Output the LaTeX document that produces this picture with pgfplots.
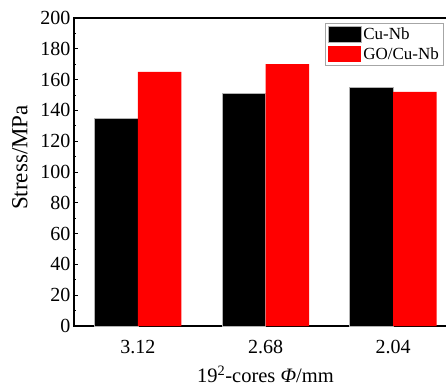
\documentclass[border=0pt]{standalone}
\usepackage{fontspec}
\setmainfont{Liberation Serif}
\usepackage{pgfplots}
\pgfplotsset{compat=1.18}
\usetikzlibrary{calc}
\pgfplotsset{sqlegend/.style={legend image code/.code={\fill[##1] (0bp,-8bp) rectangle (33bp,8bp);}}}
\begin{document}
\begin{tikzpicture}
\begin{axis}[
 scale only axis, width=383bp, height=308bp,
 xmin=-0.5, xmax=2.5, ymin=0, ymax=200,
 ybar=0pt, bar width=43.5bp,
 xtick={0,1,2}, xticklabels={3.12,2.68,2.04},
 ytick={0,20,...,200}, minor y tick num=1,
 ytick pos=left, xtick pos=bottom, xtick style={draw=none},
 tick align=inside, major tick length=4.5bp, minor tick length=2.5bp,
 axis line style={line width=1.4bp},
 ytick style={black, line width=1bp},
 /pgf/number format/assume math mode=true,
 tick label style={font=\fontsize{20bp}{22bp}\selectfont},
 xticklabel style={anchor=base, yshift=-27bp},
 every axis y label/.style={at={(axis description cs:-0.141,0.547)}, rotate=90, anchor=center, font=\fontsize{23bp}{26bp}\selectfont},
 every axis x label/.style={at={(axis description cs:0.5,-0.185)}, anchor=base, font=\fontsize{20.5bp}{24bp}\selectfont},
 ylabel={Stress/MPa},
 xlabel={19\textsuperscript{2}-cores \textit{Φ}/mm},
 legend style={at={(axis description cs:0.655,0.984)}, anchor=north west, draw=gray!70, line width=0.8bp, font=\fontsize{17bp}{19bp}\selectfont, inner sep=2.5bp, row sep=2.5bp, cells={anchor=west}},
]
\addplot[fill=black, draw=gray!60, line width=0.5bp, sqlegend] coordinates {(0,135) (1,151) (2,155)};
\addplot[fill=red, draw=none, sqlegend] coordinates {(0,165) (1,170) (2,152)};
\legend{Cu-Nb, GO/Cu-Nb}
\end{axis}
\pgfresetboundingbox
\path ($(current axis.south west)+(-74bp,-61bp)$) rectangle ($(current axis.south west)+(372bp,326bp)$);
\end{tikzpicture}
\end{document}
